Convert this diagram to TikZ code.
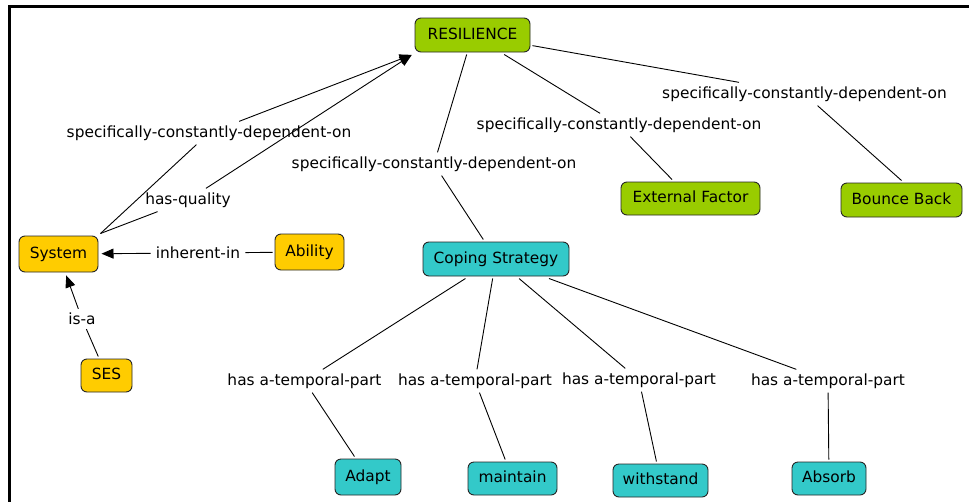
\documentclass[tikz,border=0pt]{standalone}
\usepackage{fontspec}
\setmainfont{DejaVu Sans}
\usetikzlibrary{arrows.meta}
\definecolor{cgreen}{HTML}{99CC00}
\definecolor{cyellow}{HTML}{FFCC00}
\definecolor{cteal}{HTML}{33C9C9}
\begin{document}
\begin{tikzpicture}[x=1pt,y=-1pt,
  font=\fontsize{15.4}{18}\selectfont,
  concept/.style={draw=black!85, line width=0.9pt, rounded corners=6pt,
    inner sep=0pt, outer sep=2.5pt, text height=11.5pt, text depth=3.5pt},
  greenbox/.style={concept, fill=cgreen},
  yellowbox/.style={concept, fill=cyellow},
  tealbox/.style={concept, fill=cteal},
  linkphrase/.style={inner xsep=5pt, inner ysep=4pt},
  link/.style={line width=0.9pt},
  linkarrow/.style={link, -{Triangle[length=12pt,width=10pt]}, shorten >=1pt},
]
\useasboundingbox (0,0) rectangle (969,501);

% frame
\draw[line width=3pt] (9.5,505) -- (9.5,6) -- (975,6);

% concepts
\node[greenbox, minimum width=115pt, minimum height=34pt] (res) at (472.5,35) {RESILIENCE};
\node[greenbox, minimum width=139pt, minimum height=33pt] (ext) at (690.5,198.5) {External Factor};
\node[greenbox, minimum width=121pt, minimum height=34pt] (bounce) at (901.5,200) {Bounce Back};
\node[yellowbox, minimum width=79pt, minimum height=36pt] (sys) at (58.5,254) {System};
\node[yellowbox, minimum width=69pt, minimum height=36pt] (abil) at (309.5,252) {Ability};
\node[yellowbox, minimum width=51pt, minimum height=33pt] (ses) at (106.5,375.5) {SES};
\node[tealbox, minimum width=146pt, minimum height=34pt] (cope) at (496,259) {Coping Strategy};
\node[tealbox, minimum width=66pt, minimum height=36pt] (adapt) at (368,477) {Adapt};
\node[tealbox, minimum width=89pt, minimum height=33pt] (maint) at (512.5,478.5) {maintain};
\node[tealbox, minimum width=95pt, minimum height=33pt] (withs) at (660.5,480.5) {withstand};
\node[tealbox, minimum width=74pt, minimum height=33pt] (absorb) at (829,478.5) {Absorb};

% linking phrases
\node[linkphrase] (l1) at (209,133) {specifically-constantly-dependent-on};
\node[linkphrase] (hq) at (188,200) {has-quality};
\node[linkphrase] (l2) at (434,164) {specifically-constantly-dependent-on};
\node[linkphrase] (l3) at (619,125) {specifically-constantly-dependent-on};
\node[linkphrase] (l4) at (804.5,94) {specifically-constantly-dependent-on};
\node[linkphrase] (inh) at (198,253) {inherent-in};
\node[linkphrase] (isa) at (82,319) {is-a};
\node[linkphrase] (t1) at (304.5,381) {has a-temporal-part};
\node[linkphrase] (t2) at (475,381) {has a-temporal-part};
\node[linkphrase] (t3) at (639,380) {has a-temporal-part};
\node[linkphrase] (t4) at (828,381) {has a-temporal-part};

% connections
\draw[link] (sys.north east) -- (l1);
\draw[linkarrow] (l1) -- (res.south west);
\draw[link] (sys.north east) -- (hq);
\draw[linkarrow] (hq) -- (res.south west);

\draw[link] (res) -- (l2);
\draw[link] (l2) -- (cope);
\draw[link] (res) -- (l3);
\draw[link] (l3) -- (ext);
\draw[link] (res) -- (l4);
\draw[link] (l4) -- (bounce.north);

\draw[link] (abil) -- (inh);
\draw[linkarrow] (inh) -- (sys);
\draw[link] (ses) -- (isa);
\draw[linkarrow] (isa) -- (sys);

\draw[link] (cope) -- (t1);
\draw[link] (t1) -- (adapt);
\draw[link] (cope) -- (t2);
\draw[link] (t2) -- (maint);
\draw[link] (cope) -- (t3);
\draw[link] (t3) -- (withs);
\draw[link] (cope) -- (t4);
\draw[link] (t4) -- (absorb);
\end{tikzpicture}
\end{document}
